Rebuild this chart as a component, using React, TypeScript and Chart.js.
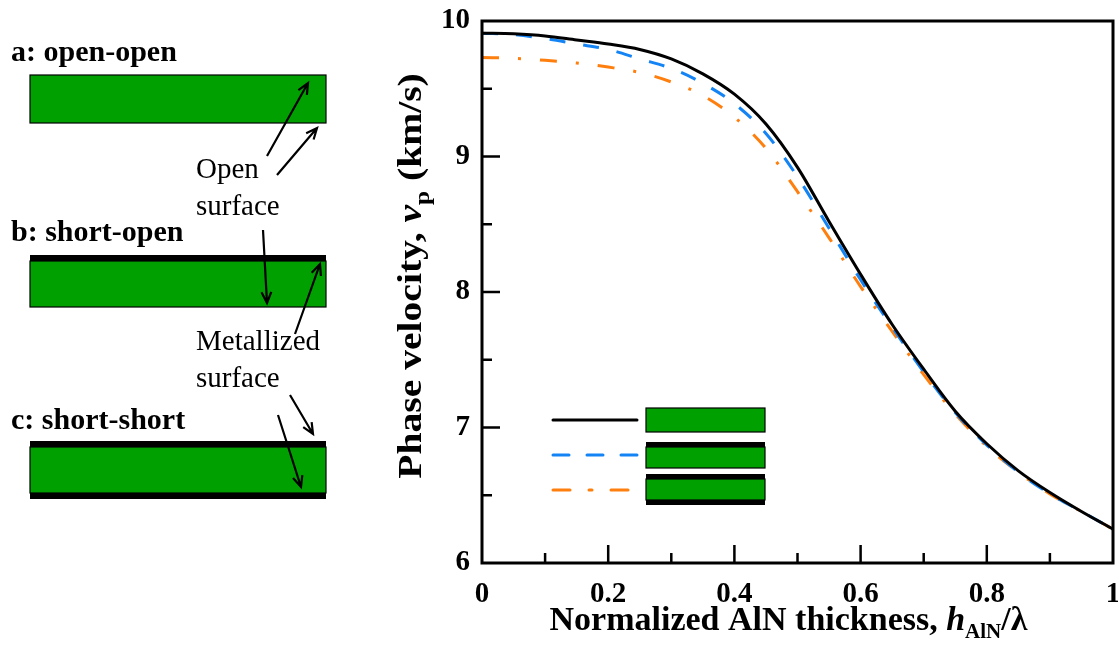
import React, { useEffect, useRef } from "react";
import { Chart, registerables } from "chart.js";
Chart.register(...registerables);

// ---- data ----
const thickness = [0, 0.05, 0.1, 0.15, 0.2, 0.25, 0.3, 0.35, 0.4, 0.45, 0.5, 0.55, 0.6, 0.65, 0.7, 0.75, 0.8, 0.85, 0.9, 0.95, 1.0];
const openOpen = [9.91, 9.905, 9.89, 9.86, 9.83, 9.79, 9.72, 9.61, 9.46, 9.24, 8.92, 8.52, 8.13, 7.76, 7.43, 7.12, 6.88, 6.68, 6.52, 6.38, 6.25];
const shortOpen = [9.91, 9.9, 9.87, 9.83, 9.79, 9.72, 9.65, 9.54, 9.39, 9.17, 8.85, 8.47, 8.09, 7.74, 7.41, 7.11, 6.87, 6.67, 6.51, 6.38, 6.25];
const shortShort = [9.73, 9.725, 9.71, 9.69, 9.66, 9.62, 9.55, 9.45, 9.29, 9.06, 8.74, 8.4, 8.04, 7.71, 7.39, 7.1, 6.86, 6.67, 6.51, 6.38, 6.25];
const xTicks = [0, 0.2, 0.4, 0.6, 0.8, 1];
const xTickLabels = ["0", "0.2", "0.4", "0.6", "0.8", "1"];
const yTicks = [6, 7, 8, 9, 10];
const seriesNames = ["open-open", "short-open", "short-short"];
const schematicTitles = ["a: open-open", "b: short-open", "c: short-short"];
const openNote = ["Open", "surface"];
const metalNote = ["Metallized", "surface"];

const GREEN = "rgb(0,160,0)";
const BLUE = "rgb(20,132,245)";
const ORANGE = "rgb(255,127,14)";
const SERIF = '"Liberation Serif", "Times New Roman", serif';

type Seg = { t: string; font: string; dy?: number };

function drawRich(ctx: CanvasRenderingContext2D, segs: Seg[], cx: number, baseY: number) {
  let total = 0;
  for (const s of segs) {
    ctx.font = s.font;
    total += ctx.measureText(s.t).width;
  }
  let x = cx - total / 2;
  ctx.textAlign = "left";
  ctx.textBaseline = "alphabetic";
  for (const s of segs) {
    ctx.font = s.font;
    ctx.fillText(s.t, x, baseY + (s.dy || 0));
    x += ctx.measureText(s.t).width;
  }
}

function arrow(ctx: CanvasRenderingContext2D, x1: number, y1: number, x2: number, y2: number) {
  ctx.beginPath();
  ctx.moveTo(x1, y1);
  ctx.lineTo(x2, y2);
  const a = Math.atan2(y2 - y1, x2 - x1);
  const L = 12;
  const sp = 0.42;
  ctx.moveTo(x2 - L * Math.cos(a - sp), y2 - L * Math.sin(a - sp));
  ctx.lineTo(x2, y2);
  ctx.lineTo(x2 - L * Math.cos(a + sp), y2 - L * Math.sin(a + sp));
  ctx.stroke();
}

function slab(ctx: CanvasRenderingContext2D, x: number, y: number, w: number, h: number, topMetal: number, botMetal: number) {
  ctx.fillStyle = "#000";
  if (topMetal > 0) ctx.fillRect(x, y - topMetal, w, topMetal);
  if (botMetal > 0) ctx.fillRect(x, y + h, w, botMetal);
  ctx.fillStyle = GREEN;
  ctx.fillRect(x, y, w, h);
  ctx.strokeStyle = "#000";
  ctx.lineWidth = 1.2;
  ctx.strokeRect(x, y, w, h);
  ctx.fillStyle = "#000";
}

const decorPlugin = {
  id: "decor",
  afterDraw(chart: any) {
    const ctx: CanvasRenderingContext2D = chart.ctx;
    const { left, right, top, bottom } = chart.chartArea;
    const xs = chart.scales.x;
    const ys = chart.scales.y;
    ctx.save();
    // frame
    ctx.strokeStyle = "#000";
    ctx.lineWidth = 3;
    ctx.strokeRect(left, top, right - left, bottom - top);
    // inward ticks
    ctx.lineWidth = 2.5;
    ctx.beginPath();
    for (let i = 1; i < 10; i++) {
      const px = xs.getPixelForValue(i / 10);
      const len = i % 2 === 0 ? 18 : 10;
      ctx.moveTo(px, bottom);
      ctx.lineTo(px, bottom - len);
    }
    for (let i = 1; i < 8; i++) {
      const v = 6 + i * 0.5;
      const py = ys.getPixelForValue(v);
      const len = i % 2 === 0 ? 18 : 10;
      ctx.moveTo(left, py);
      ctx.lineTo(left + len, py);
    }
    ctx.stroke();

    // axis titles
    ctx.fillStyle = "#000";
    const big = `bold 33px ${SERIF}`;
    const bigIt = `italic bold 33px ${SERIF}`;
    const sub = `bold 21px ${SERIF}`;
    drawRich(ctx, [
      { t: "Normalized AlN thickness, ", font: `bold 34px ${SERIF}` },
      { t: "h", font: `italic bold 34px ${SERIF}` },
      { t: "AlN", font: sub, dy: 8 },
      { t: "/λ", font: `bold 34px ${SERIF}` },
    ], (left + right) / 2 - 9, 630);
    ctx.save();
    ctx.translate(421, 276);
    ctx.rotate(-Math.PI / 2);
    ctx.scale(1.2, 1);
    drawRich(ctx, [
      { t: "Phase velocity, ", font: big },
      { t: "v", font: bigIt },
      { t: "p", font: sub, dy: 8 },
      { t: " (km/s)", font: big },
    ], 0, 0);
    ctx.restore();

    // in-plot legend
    const ds = chart.data.datasets;
    const ly = [420, 455, 490];
    for (let i = 0; i < 3; i++) {
      ctx.save();
      ctx.strokeStyle = ds[i].borderColor;
      ctx.lineWidth = 3;
      ctx.lineCap = "round";
      ctx.setLineDash(ds[i].borderDash || []);
      ctx.beginPath();
      ctx.moveTo(553, ly[i]);
      ctx.lineTo(637, ly[i]);
      ctx.stroke();
      ctx.restore();
    }
    slab(ctx, 646, 408, 119, 24, 0, 0);
    slab(ctx, 646, 447, 119, 21, 5, 0);
    slab(ctx, 646, 479, 119, 21, 5, 5);

    // left schematic
    slab(ctx, 30, 75, 296, 48, 0, 0);
    slab(ctx, 30, 261, 296, 46, 6, 0);
    slab(ctx, 30, 447, 296, 46, 6, 6);

    ctx.fillStyle = "#000";
    ctx.font = `bold 30px ${SERIF}`;
    ctx.textAlign = "left";
    ctx.textBaseline = "alphabetic";
    ctx.fillText(schematicTitles[0], 11, 61);
    ctx.fillText(schematicTitles[1], 11, 241);
    ctx.fillText(schematicTitles[2], 11, 429);

    ctx.font = `29px ${SERIF}`;
    ctx.fillText(openNote[0], 196, 178);
    ctx.fillText(openNote[1], 196, 215);
    ctx.fillText(metalNote[0], 196, 350);
    ctx.fillText(metalNote[1], 196, 387);

    ctx.strokeStyle = "#000";
    ctx.lineWidth = 2.2;
    ctx.lineCap = "butt";
    arrow(ctx, 267, 156, 308, 83);
    arrow(ctx, 277, 175, 317, 128);
    arrow(ctx, 263, 230, 267, 303);
    arrow(ctx, 295, 334, 320, 264);
    arrow(ctx, 290, 395, 313, 434);
    arrow(ctx, 278, 415, 301, 487);
    ctx.restore();
  },
};

function noPad(s: any) {
  s.paddingLeft = 0;
  s.paddingRight = 0;
  s.paddingTop = 0;
  s.paddingBottom = 0;
}

export default function App() {
  const ref = useRef<HTMLCanvasElement | null>(null);
  useEffect(() => {
    if (!ref.current) return;
    const chart = new Chart(ref.current, {
      type: "line",
      data: {
        labels: thickness,
        datasets: [
          {
            label: seriesNames[0],
            data: thickness.map((x, i) => ({ x, y: openOpen[i] })),
            borderColor: "#000",
            borderWidth: 3,
            pointRadius: 0,
            cubicInterpolationMode: "monotone",
            fill: false,
          },
          {
            label: seriesNames[1],
            data: thickness.map((x, i) => ({ x, y: shortOpen[i] })),
            borderColor: BLUE,
            borderWidth: 3,
            borderDash: [16, 18],
            pointRadius: 0,
            cubicInterpolationMode: "monotone",
            fill: false,
          },
          {
            label: seriesNames[2],
            data: thickness.map((x, i) => ({ x, y: shortShort[i] })),
            borderColor: ORANGE,
            borderWidth: 3,
            borderDash: [17, 19, 3, 19],
            pointRadius: 0,
            cubicInterpolationMode: "monotone",
            fill: false,
          },
        ],
      },
      options: {
        animation: false,
        responsive: false,
        events: [],
        layout: { padding: { left: 0, right: 5, top: 21, bottom: 0 } },
        plugins: { legend: { display: false }, tooltip: { enabled: false }, title: { display: false } },
        scales: {
          x: {
            type: "linear",
            min: 0,
            max: 1,
            grid: { display: false, drawTicks: false },
            border: { display: false },
            afterBuildTicks: (s: any) => {
              s.ticks = xTicks.map((v) => ({ value: v }));
            },
            afterFit: (s: any) => {
              s.height = 89;
              noPad(s);
            },
            ticks: {
              padding: 14,
              color: "#000",
              font: { family: SERIF, size: 29, weight: "bold" },
              maxRotation: 0,
              autoSkip: false,
              callback: (v: any) => xTickLabels[xTicks.indexOf(Number(v))] ?? String(v),
            },
          },
          y: {
            type: "linear",
            min: 6,
            max: 10,
            grid: { display: false, drawTicks: false },
            border: { display: false },
            afterBuildTicks: (s: any) => {
              s.ticks = yTicks.map((v) => ({ value: v }));
            },
            afterFit: (s: any) => {
              s.width = 482;
              noPad(s);
            },
            ticks: {
              padding: 12,
              color: "#000",
              font: { family: SERIF, size: 29, weight: "bold" },
              callback: (v: any) => String(v),
            },
          },
        },
      },
      plugins: [decorPlugin],
    } as any);
    return () => chart.destroy();
  }, []);
  return (
    <div style={{ position: "absolute", left: 0, top: 0, width: 1118, height: 652, background: "#fff" }}>
      <canvas ref={ref} width={1118} height={652} style={{ display: "block" }} />
    </div>
  );
}
